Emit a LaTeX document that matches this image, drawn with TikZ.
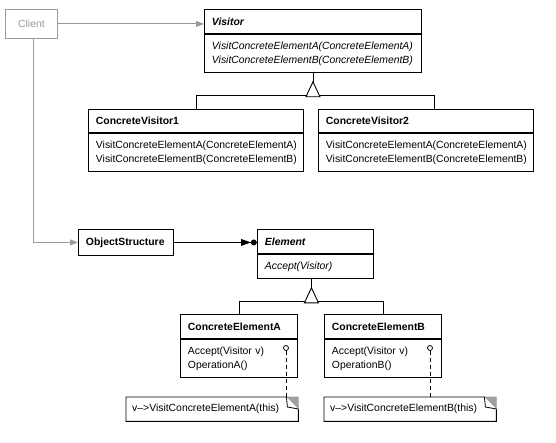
\documentclass[tikz,border=0pt]{standalone}
\usepackage{fontspec}
\setmainfont{Liberation Sans}
\usetikzlibrary{arrows.meta,calc}
\definecolor{lgray}{HTML}{9A9A9A}
\definecolor{fold}{HTML}{A0A0A0}
\begin{document}
\begin{tikzpicture}[x=1pt,y=-1pt,
  every node/.style={font=\fontsize{10.4}{14}\selectfont},
  cls/.style={draw, line width=0.9pt, anchor=north west, inner xsep=7.5pt, inner ysep=0pt, align=left},
  notebox/.style={anchor=north west, inner xsep=6pt, inner ysep=0pt, align=left},
  conn/.style={line width=0.9pt},
  gconn/.style={line width=0.9pt, draw=lgray, -{Triangle[length=8pt,width=6pt,fill=lgray]}},
  lollipop/.style={circle, draw, line width=0.8pt, fill=white, inner sep=0pt, minimum size=5pt},
  dashconn/.style={line width=0.9pt, dash pattern=on 4pt off 3pt},
  inh/.style={line width=0.9pt, fill=white}
]
\useasboundingbox (0,0) rectangle (556,443);

% Client
\node[draw=lgray, text=lgray, line width=0.9pt, minimum width=52pt, minimum height=29pt,
      anchor=north west, inner sep=0pt] (client) at (5,9) {Client};

% Visitor
\node[cls, text width=202pt, minimum height=24pt] (vish) at (204,9) {\textbf{\textit{Visitor}}};
\node[cls, text width=202pt, minimum height=38pt] (visb) at (vish.south west)
  {\textit{VisitConcreteElementA(ConcreteElementA)}\\\textit{VisitConcreteElementB(ConcreteElementB)}};

% ConcreteVisitor1
\node[cls, text width=200pt, minimum height=23pt] (cv1h) at (88,109) {\textbf{ConcreteVisitor1}};
\node[cls, text width=200pt, minimum height=38pt] (cv1b) at (cv1h.south west)
  {VisitConcreteElementA(ConcreteElementA)\\VisitConcreteElementB(ConcreteElementB)};

% ConcreteVisitor2
\node[cls, text width=200pt, minimum height=23pt] (cv2h) at (318,109) {\textbf{ConcreteVisitor2}};
\node[cls, text width=200pt, minimum height=38pt] (cv2b) at (cv2h.south west)
  {VisitConcreteElementA(ConcreteElementA)\\VisitConcreteElementB(ConcreteElementB)};

% ObjectStructure
\node[cls, text width=80pt, minimum height=26pt] (os) at (78,229) {\textbf{ObjectStructure}};

% Element
\node[cls, text width=101pt, minimum height=24pt] (elh) at (257,229) {\textbf{\textit{Element}}};
\node[cls, text width=101pt, minimum height=24pt] (elb) at (elh.south west) {\textit{Accept(Visitor)}};

% ConcreteElementA
\node[cls, text width=102pt, minimum height=24pt] (ceah) at (180,314) {\textbf{ConcreteElementA}};
\node[cls, text width=102pt, minimum height=38pt] (ceab) at (ceah.south west) {Accept(Visitor v)\\OperationA()};

% ConcreteElementB
\node[cls, text width=102pt, minimum height=24pt] (cebh) at (324,314) {\textbf{ConcreteElementB}};
\node[cls, text width=102pt, minimum height=38pt] (cebb) at (cebh.south west) {Accept(Visitor v)\\OperationB()};

% Notes
\node[notebox, text width=160pt, minimum height=24pt] (na) at (126,397) {v–>VisitConcreteElementA(this)};
\node[notebox, text width=160pt, minimum height=24pt] (nb) at (324,397) {v–>VisitConcreteElementB(this)};
\foreach \n in {na,nb}{
  \draw[line width=0.9pt] (\n.north west) -- ([xshift=-12pt]\n.north east)
     -- ([yshift=-12pt]\n.north east) -- (\n.south east) -- (\n.south west) -- cycle;
  \filldraw[fill=fold, draw=fold, line width=0.6pt] ([xshift=-12pt]\n.north east) -- (\n.north east)
     -- ([yshift=-12pt]\n.north east) -- cycle;
  \filldraw[fill=white, line width=0.8pt] ([xshift=-12pt]\n.north east)
     -- ([xshift=-11pt,yshift=-10pt]\n.north east) -- ([yshift=-12pt]\n.north east);
}

% Lollipops and dashed note connectors
\node[lollipop] (ca) at (286,348) {};
\node[lollipop] (cb) at (430,348) {};
\draw[dashconn] (ca.south) -- (ca.south |- na.north);
\draw[dashconn] (cb.south) -- (cb.south |- nb.north);

% Client connectors
\draw[gconn] (client.east) -- (client.east -| vish.west);
\draw[gconn] ([xshift=2pt]client.south) |- (os.west);

% Aggregation ObjectStructure -> Element
\coordinate (agg) at (os.east -| elh.west);
\draw[conn] (os.east) -- (agg);
\fill ([xshift=-6pt]agg) -- ([xshift=-16pt,yshift=3.5pt]agg) -- ([xshift=-16pt,yshift=-3.5pt]agg) -- cycle;
\fill ([xshift=-3.2pt]agg) circle (3pt);

% Inheritance Visitor
\coordinate (tv) at ([yshift=-9pt]visb.south);
\draw[conn] (visb.south) -- (tv);
\draw[conn] (cv1h.north) -- ++(0,-14) -| ([xshift=8.5pt]cv2h.north);
\draw[inh] (tv) -- ++(-7,15) -- ++(14,0) -- cycle;

% Inheritance Element
\coordinate (te) at ([xshift=-4pt,yshift=-9pt]elb.south);
\draw[conn] ([xshift=-4pt]elb.south) -- (te);
\draw[conn] (ceah.north) -- ++(0,-13) -| (cebh.north);
\draw[inh] (te) -- ++(-7,15) -- ++(14,0) -- cycle;
\end{tikzpicture}
\end{document}
